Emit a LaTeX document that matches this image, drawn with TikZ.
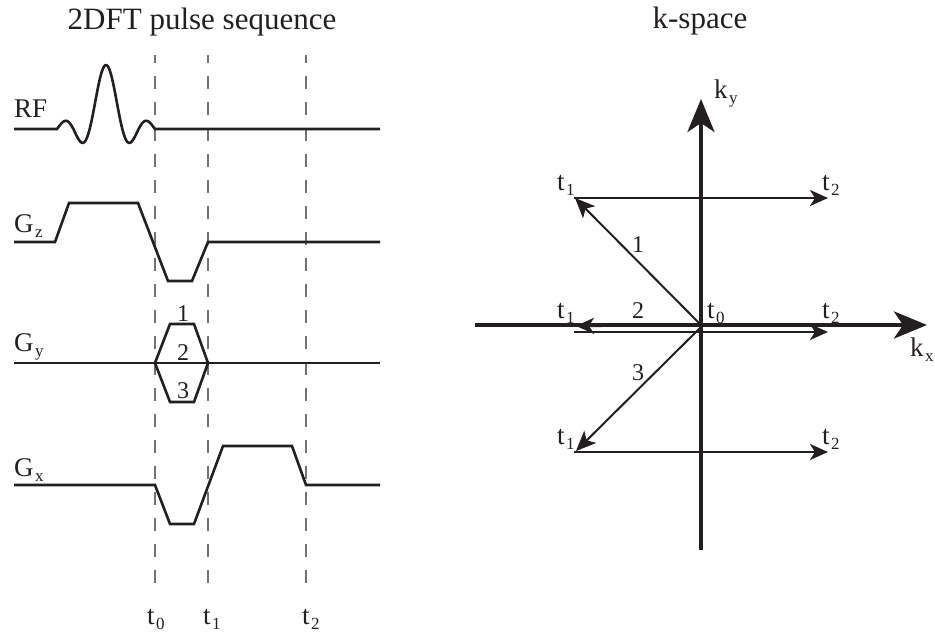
\documentclass[tikz,border=0pt]{standalone}
\usepackage{fontspec}
\setmainfont{Liberation Serif}
\usetikzlibrary{arrows.meta}
\definecolor{ink}{RGB}{35,31,32}
\newcommand\lbsub[1]{\kern1.5pt\raisebox{-5pt}{\fontsize{17}{17}\selectfont #1}}
\begin{document}
\begin{tikzpicture}[x=1pt,y=-1pt,
  sig/.style={line width=2.6pt, line join=miter, color=ink},
  tline/.style={line width=1.3pt, color=black!55, dash pattern=on 13pt off 13pt, dash phase=5pt},
  axisln/.style={line width=4pt, color=ink, -{Stealth[length=33pt,width=27pt,inset=9pt]}},
  traj/.style={line width=2.4pt, color=ink, -{Stealth[length=18pt,width=16pt,inset=5pt]}},
  diag/.style={line width=2pt, color=ink, -{Stealth[length=20pt,width=17pt,inset=5pt]}},
  ttl/.style={inner sep=0pt, anchor=base, font=\fontsize{31}{31}\selectfont, text=ink},
  lab/.style={inner sep=0pt, anchor=base west, font=\fontsize{27}{27}\selectfont, text=ink},
  num/.style={inner sep=0pt, anchor=base, font=\fontsize{24}{24}\selectfont, text=ink}]
\useasboundingbox (0,0) rectangle (935,632);

% titles
\node[ttl] (title1) at (202,29) {2DFT pulse sequence};
\node[ttl] (title2) at (700,28) {k-space};

% time markers
\coordinate (t0a) at (155,55); \coordinate (t0b) at (155,593);
\coordinate (t1a) at (208,55); \coordinate (t1b) at (208,593);
\coordinate (t2a) at (306,55); \coordinate (t2b) at (306,593);
\draw[tline] (t0a) -- (t0b);
\draw[tline] (t1a) -- (t1b);
\draw[tline] (t2a) -- (t2b);
\node[lab] (lt0) at (147,624) {t\lbsub{0}};
\node[lab] (lt1) at (203,624) {t\lbsub{1}};
\node[lab] (lt2) at (302,624) {t\lbsub{2}};

% RF
\coordinate (rfs) at (14,129); \coordinate (rfe) at (380,129);
\draw[sig] (rfs) -- (57,129) -- plot[domain=-3:3,samples=120] ({106+16.33*\x},{129-64*sin(180*\x)/(3.14159*\x)}) -- (rfe);
\node[lab] (lrf) at (14,117) {RF};

% Gz
\coordinate (gzs) at (14,242); \coordinate (gze) at (380,242);
\draw[sig] (gzs) -- (55,242) -- (69,203) -- (138,203) -- (168,281) -- (192,281) -- (208,242) -- (gze);
\node[lab] (lgz) at (14,232) {G\lbsub{z}};

% Gy
\coordinate (gys) at (14,363); \coordinate (gye) at (380,363);
\draw[sig] (gys) -- (gye);
\draw[sig] (155,363) -- (170,324) -- (194,324) -- (208,363) -- (194,402) -- (170,402) -- cycle;
\node[lab] (lgy) at (14,351) {G\lbsub{y}};
\node[num] (g1) at (183,321) {1};
\node[num] (g2) at (183,360) {2};
\node[num] (g3) at (183,398) {3};

% Gx
\coordinate (gxs) at (14,485); \coordinate (gxe) at (380,485);
\draw[sig] (gxs) -- (155,485) -- (170,524) -- (194,524) -- (223,446) -- (292,446) -- (306,485) -- (gxe);
\node[lab] (lgx) at (14,476) {G\lbsub{x}};

% k-space
\coordinate (O) at (701,325);
\coordinate (kxs) at (475,325); \coordinate (kxe) at (927,325);
\coordinate (kys) at (701,550); \coordinate (kye) at (701,99);
\draw[axisln] (kxs) -- (kxe);
\draw[axisln] (kys) -- (kye);
\node[lab] (lky) at (714,98) {k\lbsub{y}};
\node[lab] (lkx) at (910,356) {k\lbsub{x}};

\coordinate (a1) at (574,198); \coordinate (b1) at (828,198);
\coordinate (a2) at (574,332); \coordinate (b2) at (828,332);
\coordinate (a3) at (574,452); \coordinate (b3) at (828,452);
\draw[traj] (a1) -- (b1);
\draw[traj] (a2) -- (b2);
\draw[traj] (a3) -- (b3);

\coordinate (O3) at (701,327);
\coordinate (p1) at (575,198);
\coordinate (p2) at (576,326);
\coordinate (p3) at (576,451);
\draw[diag] (O) -- (p1);
\draw[traj] (O) -- (p2);
\draw[diag] (O3) -- (p3);

\node[num] (k1) at (638,252) {1};
\node[num] (k2) at (638,318) {2};
\node[num] (k3) at (638,380) {3};

\node[lab] (kt1a) at (557,190) {t\lbsub{1}};
\node[lab] (kt2a) at (822,190) {t\lbsub{2}};
\node[lab] (kt1b) at (557,318) {t\lbsub{1}};
\node[lab] (kt0)  at (707,318) {t\lbsub{0}};
\node[lab] (kt2b) at (822,318) {t\lbsub{2}};
\node[lab] (kt1c) at (557,444) {t\lbsub{1}};
\node[lab] (kt2c) at (822,444) {t\lbsub{2}};
\end{tikzpicture}
\end{document}
